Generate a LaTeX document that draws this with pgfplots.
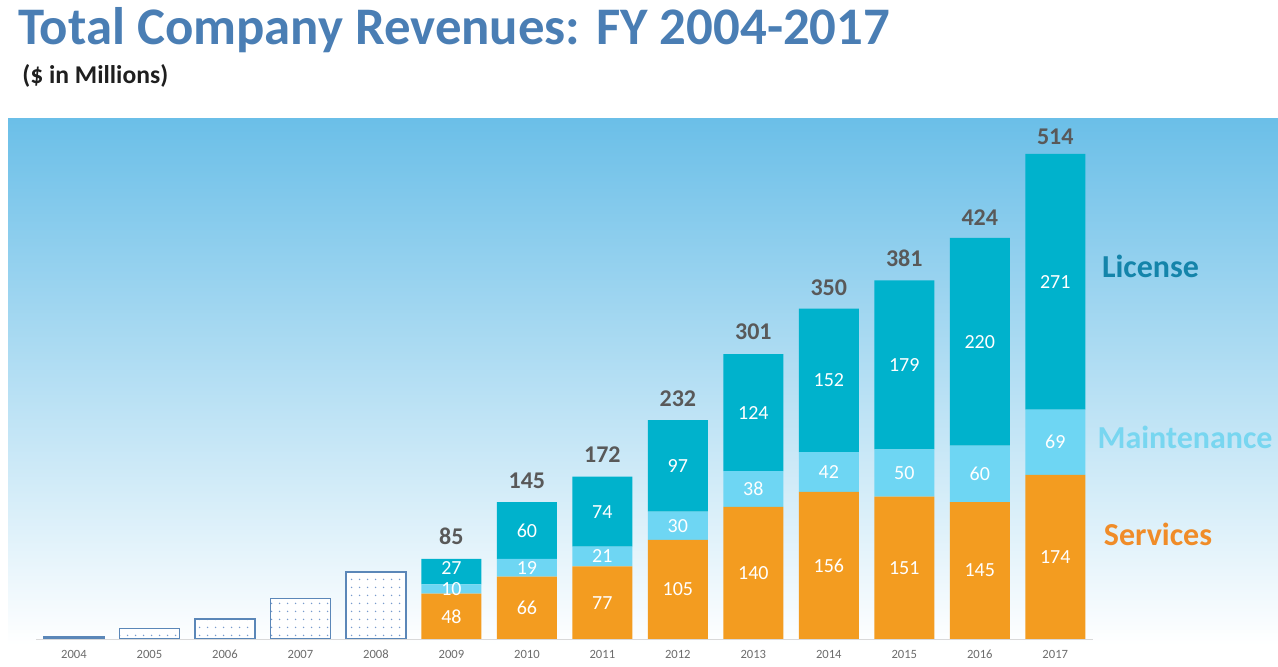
\documentclass[border=0pt]{standalone}
\usepackage{fontspec}
\setmainfont{Carlito}
\usepackage{pgfplots}
\pgfplotsset{compat=1.18}
\usetikzlibrary{patterns.meta}
\definecolor{titleblue}{RGB}{74,126,180}
\definecolor{services}{RGB}{243,156,32}
\definecolor{maint}{RGB}{110,214,243}
\definecolor{license}{RGB}{0,178,204}
\definecolor{licText}{RGB}{20,132,170}
\definecolor{maintText}{RGB}{120,214,240}
\definecolor{servText}{RGB}{240,140,40}
\definecolor{totgray}{RGB}{89,89,89}
\definecolor{edgeblue}{RGB}{91,135,184}
\definecolor{dotblue}{RGB}{120,155,205}
\definecolor{bgtop}{RGB}{107,191,232}
\definecolor{bgmid}{RGB}{178,220,243}
\begin{document}
\begin{tikzpicture}[x=1pt,y=1pt,
  seg/.style={text=white, font=\fontsize{10}{12}\selectfont},
  tot/.style={text=totgray, font=\fontsize{12}{14}\selectfont\bfseries, anchor=base}]
\useasboundingbox (0,0) rectangle (639,333.5);
\shade[top color=bgtop, middle color=bgmid, bottom color=white] (4,11) rectangle (639,274);
\node[anchor=base west, text=titleblue, font=\fontsize{26.4}{31}\selectfont\bfseries, inner sep=0] at (9,311) {Total Company Revenues: FY 2004-2017};
\node[anchor=base west, text=black!88, font=\fontsize{12.8}{15}\selectfont\bfseries, inner sep=0] at (11,291.5) {(\$ in Millions)};
\pgfplotsset{base/.style={at={(18.125pt,14pt)}, anchor=south west, scale only axis, width=528.375pt, height=259.5pt, xmin=-0.5, xmax=13.5, ymin=0, ymax=550, bar width=30pt}}
\begin{axis}[base, axis lines=none, ybar, bar shift=0pt]
\addplot[draw=edgeblue, line width=0.7pt, fill=white, postaction={pattern={Dots[distance=4pt,radius=0.45pt]}, pattern color=dotblue}] coordinates {(0,2)(1,11)(2,21)(3,43)(4,71)};
\end{axis}
\begin{axis}[base, ybar stacked,
  axis x line=bottom, axis y line=none, axis line style={draw=gray!30, -},
  xtick={0,...,13}, xticklabels={2004,2005,2006,2007,2008,2009,2010,2011,2012,2013,2014,2015,2016,2017},
  major tick length=0pt, xticklabel style={font=\fontsize{6.3}{7}\selectfont, text=gray!85!black, yshift=-2pt}]
\addplot[fill=services, draw=none] coordinates {(5,48)(6,66)(7,77)(8,105)(9,140)(10,156)(11,151)(12,145)(13,174)};
\addplot[fill=maint, draw=none] coordinates {(5,10)(6,19)(7,21)(8,30)(9,38)(10,42)(11,50)(12,60)(13,69)};
\addplot[fill=license, draw=none] coordinates {(5,27)(6,60)(7,74)(8,97)(9,124)(10,152)(11,179)(12,220)(13,271)};
\end{axis}
\begin{axis}[base, axis lines=none, clip=false]
\node[seg] at (axis cs:5,24) {48};\node[seg] at (axis cs:5,53) {10};\node[seg] at (axis cs:5,75.5) {27};
\node[seg] at (axis cs:6,33) {66};\node[seg] at (axis cs:6,75.5) {19};\node[seg] at (axis cs:6,115) {60};
\node[seg] at (axis cs:7,38.5) {77};\node[seg] at (axis cs:7,87.5) {21};\node[seg] at (axis cs:7,135) {74};
\node[seg] at (axis cs:8,52.5) {105};\node[seg] at (axis cs:8,120) {30};\node[seg] at (axis cs:8,183.5) {97};
\node[seg] at (axis cs:9,70) {140};\node[seg] at (axis cs:9,159) {38};\node[seg] at (axis cs:9,240) {124};
\node[seg] at (axis cs:10,78) {156};\node[seg] at (axis cs:10,177) {42};\node[seg] at (axis cs:10,274) {152};
\node[seg] at (axis cs:11,75.5) {151};\node[seg] at (axis cs:11,176) {50};\node[seg] at (axis cs:11,290.5) {179};
\node[seg] at (axis cs:12,72.5) {145};\node[seg] at (axis cs:12,175) {60};\node[seg] at (axis cs:12,315) {220};
\node[seg] at (axis cs:13,87) {174};\node[seg] at (axis cs:13,208.5) {69};\node[seg] at (axis cs:13,378.5) {271};
\node[tot] at (axis cs:5,100) {85};
\node[tot] at (axis cs:6,159) {145};
\node[tot] at (axis cs:7,187) {172};
\node[tot] at (axis cs:8,246) {232};
\node[tot] at (axis cs:9,317) {301};
\node[tot] at (axis cs:10,364) {350};
\node[tot] at (axis cs:11,395) {381};
\node[tot] at (axis cs:12,438) {424};
\node[tot] at (axis cs:13,524) {514};
\end{axis}
\node[text=licText, font=\fontsize{16}{19}\selectfont\bfseries] at (575.25,200.5) {License};
\node[text=maintText, font=\fontsize{16}{19}\selectfont\bfseries] at (592.5,115) {Maintenance};
\node[text=servText, font=\fontsize{16}{19}\selectfont\bfseries] at (579,66.5) {Services};
\end{tikzpicture}
\end{document}
